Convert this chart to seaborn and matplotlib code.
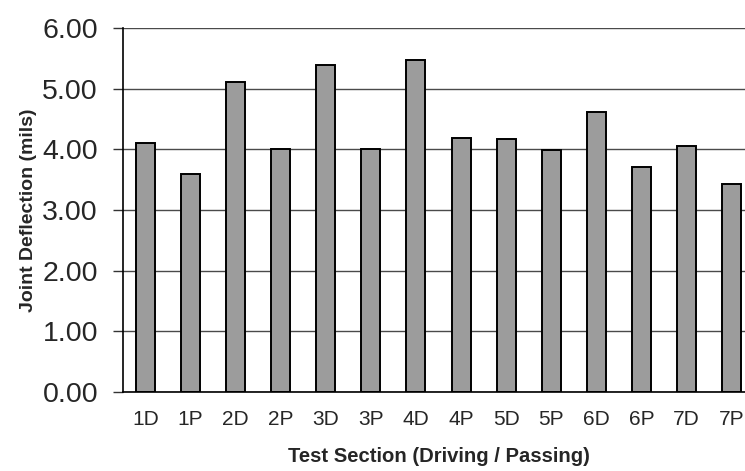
import matplotlib
matplotlib.use("Agg")
import matplotlib.pyplot as plt
import numpy as np
import pandas as pd
import seaborn as sns

# Joint deflection per test section (D = driving lane, P = passing lane)
sections = ["1D", "1P", "2D", "2P", "3D", "3P", "4D", "4P",
            "5D", "5P", "6D", "6P", "7D", "7P"]
deflection_mils = [4.11, 3.59, 5.11, 4.00, 5.39, 4.00, 5.48, 4.19,
                   4.17, 3.99, 4.62, 3.71, 4.05, 3.43]
y_ticks = [0, 1, 2, 3, 4, 5, 6]

sns.set_style("white")
plt.rcParams["font.family"] = ["Liberation Sans", "DejaVu Sans"]

df = pd.DataFrame({"section": sections, "deflection": deflection_mils})

fig = plt.figure(figsize=(7.45, 4.71), dpi=100)
ax = fig.add_axes([123 / 745, 79 / 471, 631 / 745, 364 / 471])

sns.barplot(data=df, x="section", y="deflection", order=sections,
            color="#9c9c9c", saturation=1, edgecolor="black",
            linewidth=1.4, width=0.42, ax=ax)

ax.set_xlim(-0.5, len(sections) - 0.5)
ax.set_ylim(0, 6)
ax.set_yticks(y_ticks)
ax.set_yticklabels([f"{v:.2f}" for v in y_ticks], fontsize=20.5)
ax.yaxis.grid(True, color="#4a4a4a", linewidth=1.0)
ax.set_axisbelow(True)

# category labels on major ticks, boundary tick marks on minor ticks
ax.set_xticks(range(len(sections)))
ax.set_xticklabels(sections, fontsize=15)
ax.set_xticks(np.arange(-0.5, len(sections), 1.0), minor=True)
ax.tick_params(axis="x", which="major", length=0, pad=13)
ax.tick_params(axis="x", which="minor", length=5, width=1, color="black",
               direction="out")
ax.tick_params(axis="y", length=7, width=1, color="#333333",
               direction="out", pad=11, left=True)

for side in ["top", "right"]:
    ax.spines[side].set_visible(False)
for side in ["left", "bottom"]:
    ax.spines[side].set_color("black")
    ax.spines[side].set_linewidth(1.2)

ax.set_xlabel("Test Section (Driving / Passing)", fontsize=14.6,
              fontweight="bold", labelpad=13)
ax.set_ylabel("Joint Deflection (mils)", fontsize=14,
              fontweight="bold", labelpad=4)

fig.savefig("out.png", dpi=100)
